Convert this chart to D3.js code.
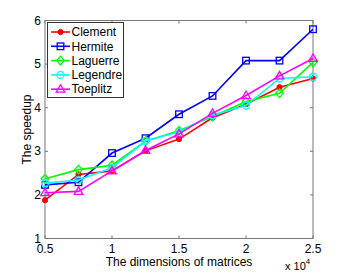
<!DOCTYPE html>
<html>
<head>
<meta charset="utf-8">
<script src="https://cdn.jsdelivr.net/npm/d3@7"></script>
<style>
    body { margin: 0; padding: 0; background: #fff; }
    text { font-family: "Liberation Sans", Arial, sans-serif; }
</style>
</head>
<body>
<script>
const dims = [5000, 7500, 10000, 12500, 15000, 17500, 20000, 22500, 25000];
const clement = [1.88, 2.47, 2.55, 3.01, 3.28, 3.77, 4.08, 4.47, 4.67];
const hermite = [2.23, 2.29, 2.96, 3.30, 3.85, 4.27, 5.08, 5.08, 5.80];
const laguerre = [2.37, 2.58, 2.68, 3.23, 3.47, 3.80, 4.14, 4.33, 5.04];
const legendre = [2.27, 2.34, 2.62, 3.24, 3.44, 3.83, 4.05, 4.67, 4.71];
const toeplitz = [2.05, 2.08, 2.55, 3.02, 3.40, 3.87, 4.28, 4.73, 5.13];
const xTicks = [5000, 10000, 15000, 20000, 25000];
const xTickLabels = ['0.5', '1', '1.5', '2', '2.5'];
const yTicks = [1, 2, 3, 4, 5, 6];

const series = [
    {name: 'Clement', values: clement, color: '#ff0000', marker: 'dot'},
    {name: 'Hermite', values: hermite, color: '#0000ff', marker: 'square'},
    {name: 'Laguerre', values: laguerre, color: '#00ff00', marker: 'diamond'},
    {name: 'Legendre', values: legendre, color: '#00ffff', marker: 'circle'},
    {name: 'Toeplitz', values: toeplitz, color: '#ff00ff', marker: 'triangle'}
];

const width = 346, height = 277;
const m = {left: 45, right: 33, top: 20.5, bottom: 38.5};

const svg = d3.select('body').append('svg')
    .attr('width', width)
    .attr('height', height);

const x = d3.scaleLinear().domain([5000, 25000]).range([m.left, width - m.right]);
const y = d3.scaleLinear().domain([1, 6]).range([height - m.bottom, m.top]);

const axisColor = '#777';
const tickLen = 3;

// box
svg.append('rect')
    .attr('x', x(5000)).attr('y', y(6))
    .attr('width', x(25000) - x(5000)).attr('height', y(1) - y(6))
    .attr('fill', 'none').attr('stroke', axisColor).attr('stroke-width', 1);

// ticks (inside, both sides)
const gTicks = svg.append('g').attr('stroke', axisColor).attr('stroke-width', 1);
xTicks.forEach(t => {
    gTicks.append('line').attr('x1', x(t)).attr('x2', x(t)).attr('y1', y(1)).attr('y2', y(1) - tickLen);
    gTicks.append('line').attr('x1', x(t)).attr('x2', x(t)).attr('y1', y(6)).attr('y2', y(6) + tickLen);
});
yTicks.forEach(t => {
    gTicks.append('line').attr('x1', x(5000)).attr('x2', x(5000) + tickLen).attr('y1', y(t)).attr('y2', y(t));
    gTicks.append('line').attr('x1', x(25000)).attr('x2', x(25000) - tickLen).attr('y1', y(t)).attr('y2', y(t));
});

// tick labels
svg.append('g').selectAll('text')
    .data(xTicks)
    .join('text')
        .attr('x', d => x(d))
        .attr('y', y(1) + 14.5)
        .attr('text-anchor', 'middle')
        .attr('font-size', 12)
        .text((d, i) => xTickLabels[i]);

svg.append('g').selectAll('text')
    .data(yTicks)
    .join('text')
        .attr('x', x(5000) - 4)
        .attr('y', d => y(d) + 4)
        .attr('text-anchor', 'end')
        .attr('font-size', 12)
        .text(d => d);

// axis labels
svg.append('text')
    .attr('x', (x(5000) + x(25000)) / 2)
    .attr('y', y(1) + 27.5)
    .attr('text-anchor', 'middle')
    .attr('font-size', 12)
    .text('The dimensions of matrices');

const exp = svg.append('text')
    .attr('x', 285)
    .attr('y', 270)
    .attr('font-size', 11);
exp.append('tspan').text('x 10');
exp.append('tspan').attr('font-size', 8).attr('dy', -6).text('4');

svg.append('text')
    .attr('transform', `translate(31, ${(y(1) + y(6)) / 2}) rotate(-90)`)
    .attr('text-anchor', 'middle')
    .attr('font-size', 12)
    .text('The speedup');

// marker drawing
function drawMarker(g, type, color, cx, cy) {
    if (type === 'dot') {
        g.append('circle').attr('cx', cx).attr('cy', cy).attr('r', 2.6)
            .attr('fill', color).attr('stroke', color).attr('stroke-width', 1);
    } else if (type === 'square') {
        g.append('rect').attr('x', cx - 3.3).attr('y', cy - 3.3).attr('width', 6.6).attr('height', 6.6)
            .attr('fill', 'none').attr('stroke', color).attr('stroke-width', 1.3);
    } else if (type === 'diamond') {
        g.append('path').attr('d', `M${cx},${cy - 4.3}L${cx + 3.8},${cy}L${cx},${cy + 4.3}L${cx - 3.8},${cy}Z`)
            .attr('fill', 'none').attr('stroke', color).attr('stroke-width', 1.3);
    } else if (type === 'circle') {
        g.append('circle').attr('cx', cx).attr('cy', cy).attr('r', 3.5)
            .attr('fill', 'none').attr('stroke', color).attr('stroke-width', 1.3);
    } else if (type === 'triangle') {
        g.append('path').attr('d', `M${cx},${cy - 4.5}L${cx + 4.3},${cy + 3}L${cx - 4.3},${cy + 3}Z`)
            .attr('fill', 'none').attr('stroke', color).attr('stroke-width', 1.3);
    }
}

const line = d3.line().x((d, i) => x(dims[i])).y(d => y(d));

series.forEach(s => {
    const g = svg.append('g');
    g.append('path')
        .attr('d', line(s.values))
        .attr('fill', 'none')
        .attr('stroke', s.color)
        .attr('stroke-width', 1.6);
    s.values.forEach((v, i) => drawMarker(g, s.marker, s.color, x(dims[i]), y(v)));
});

// legend
const lg = svg.append('g');
lg.append('rect')
    .attr('x', 47.5).attr('y', 22.5).attr('width', 76).attr('height', 75)
    .attr('fill', '#fff').attr('stroke', '#333').attr('stroke-width', 1);
series.forEach((s, i) => {
    const ly = 32 + i * 14.3;
    lg.append('line').attr('x1', 51).attr('x2', 70).attr('y1', ly).attr('y2', ly)
        .attr('stroke', s.color).attr('stroke-width', 1.6);
    drawMarker(lg, s.marker, s.color, 60.5, ly);
    lg.append('text').attr('x', 71.5).attr('y', ly + 4.2).attr('font-size', 12).text(s.name);
});
</script>
</body>
</html>
